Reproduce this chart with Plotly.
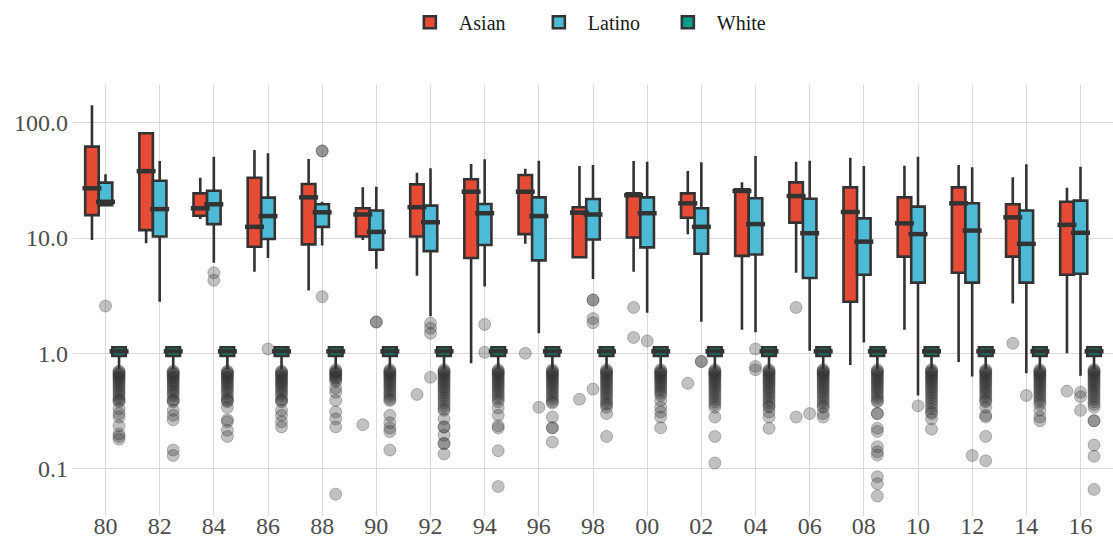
import plotly.graph_objects as go

years = ["80", "82", "84", "86", "88", "90", "92", "94", "96", "98",
         "00", "02", "04", "06", "08", "10", "12", "14", "16"]
groups = ["Asian", "Latino", "White"]
colors = ["#E64B35", "#4DBBD5", "#00A087"]

# box statistics (lower whisker, q1, median, q3, upper whisker)
asian_low = [9.6, 9.0, 14.6, 5.1, 3.5, 9.6, 4.7, 0.82, 8.9, 6.8, 5.1, 10.8, 1.6, 5.0, 0.79, 1.6, 0.84, 2.7, 1.0]
asian_q1 = [15.8, 11.7, 15.6, 8.4, 8.8, 10.3, 10.3, 6.7, 10.8, 6.8, 10.1, 15.0, 7.0, 13.6, 2.8, 6.9, 5.0, 6.9, 4.8]
asian_med = [27, 38, 18.1, 12.5, 22.5, 16.0, 18.5, 25.2, 25.2, 16.6, 23.5, 20.0, 25.6, 23.1, 16.8, 13.4, 20.0, 15.1, 13.0]
asian_q3 = [62, 81, 24.4, 33.3, 29.4, 18.1, 29.2, 32.3, 35.2, 18.5, 24.4, 24.4, 26.5, 30.4, 27.5, 22.5, 27.5, 19.6, 20.6]
asian_high = [142, 82.6, 33.3, 58, 48.4, 27.5, 36.8, 43.8, 39.9, 42.1, 46.5, 38.1, 30.4, 45.9, 49.7, 42.4, 43, 33.6, 27.3]

latino_low = [18.8, 2.8, 6.1, 6.7, 8.6, 5.4, 2.1, 3.8, 1.49, 4.4, 2.25, 1.88, 1.52, 1.05, 1.24, 0.43, 0.63, 0.67, 0.64]
latino_q1 = [19.3, 10.3, 13.2, 9.8, 12.5, 7.9, 7.7, 8.7, 6.4, 9.7, 8.3, 7.3, 7.2, 4.5, 4.8, 4.1, 4.1, 4.1, 4.9]
latino_med = [20.6, 17.8, 19.6, 15.5, 16.7, 11.3, 13.7, 16.4, 15.5, 16.0, 16.4, 12.5, 13.2, 11.0, 9.3, 10.8, 11.6, 8.9, 11.1]
latino_q3 = [30.2, 31.4, 25.7, 22.4, 19.6, 17.3, 19.1, 19.7, 22.5, 21.8, 22.5, 18.1, 22.1, 21.9, 14.8, 18.7, 20.0, 17.3, 21.1]
latino_high = [35.7, 46.5, 50.7, 54.3, 20.6, 27.9, 40.2, 48.2, 46.8, 43, 45.9, 45.3, 51.4, 46.8, 42.1, 50.7, 41, 43.6, 41.5]

white_low = [0.73] * 19
white_q1 = [0.95] * 19
white_med = [1.04] * 19
white_q3 = [1.13] * 19
white_high = [1.13] * 19

# outliers per year
asian_out = [[], [], [], [], [], [0.24], [0.44], [], [1.0], [0.40],
             [2.5, 1.37], [0.55], [], [2.5, 0.28], [], [], [], [1.22], [0.47]]
latino_out = [[2.57], [], [5.0, 4.3], [1.09], [56.9, 56.9, 3.1], [1.87, 1.87],
              [1.82, 1.65, 1.49, 0.62], [1.78, 1.02], [0.34], [2.9, 2.9, 2.0, 1.84, 0.49],
              [1.28], [0.85, 0.85], [1.09, 0.77, 0.72], [0.30], [], [0.35], [0.13],
              [0.43], [0.46, 0.42, 0.32]]
white_out = [
    [0.70, 0.69, 0.67, 0.66, 0.64, 0.63, 0.61, 0.60, 0.58, 0.56, 0.54, 0.52, 0.50, 0.48, 0.46, 0.44, 0.42, 0.40, 0.39, 0.38, 0.33, 0.30, 0.28, 0.235, 0.20, 0.19, 0.18],
    [0.70, 0.69, 0.67, 0.66, 0.64, 0.62, 0.61, 0.59, 0.57, 0.55, 0.53, 0.51, 0.49, 0.47, 0.45, 0.43, 0.40, 0.39, 0.38, 0.32, 0.29, 0.265, 0.145, 0.13],
    [0.70, 0.69, 0.67, 0.66, 0.64, 0.62, 0.61, 0.59, 0.57, 0.55, 0.53, 0.51, 0.49, 0.47, 0.45, 0.42, 0.40, 0.39, 0.38, 0.34, 0.265, 0.255, 0.215, 0.19],
    [0.70, 0.69, 0.67, 0.65, 0.64, 0.62, 0.60, 0.58, 0.56, 0.55, 0.53, 0.51, 0.49, 0.47, 0.45, 0.43, 0.40, 0.39, 0.38, 0.32, 0.29, 0.255, 0.23],
    [0.72, 0.70, 0.69, 0.67, 0.66, 0.64, 0.62, 0.61, 0.59, 0.57, 0.50, 0.46, 0.39, 0.31, 0.27, 0.23, 0.06],
    [0.72, 0.70, 0.69, 0.67, 0.65, 0.64, 0.62, 0.60, 0.58, 0.56, 0.54, 0.52, 0.50, 0.48, 0.46, 0.44, 0.42, 0.40, 0.39, 0.29, 0.25, 0.225, 0.21, 0.145],
    [0.72, 0.70, 0.69, 0.67, 0.65, 0.63, 0.61, 0.59, 0.57, 0.55, 0.53, 0.51, 0.49, 0.47, 0.45, 0.43, 0.41, 0.39, 0.37, 0.35, 0.33, 0.32, 0.27, 0.23, 0.23, 0.195, 0.165, 0.165, 0.134],
    [0.72, 0.70, 0.69, 0.67, 0.66, 0.64, 0.62, 0.60, 0.58, 0.56, 0.54, 0.52, 0.50, 0.48, 0.46, 0.44, 0.42, 0.40, 0.38, 0.335, 0.29, 0.235, 0.225, 0.143, 0.07],
    [0.72, 0.70, 0.69, 0.67, 0.65, 0.64, 0.62, 0.60, 0.58, 0.56, 0.54, 0.52, 0.50, 0.48, 0.46, 0.44, 0.42, 0.40, 0.38, 0.37, 0.28, 0.226, 0.226, 0.17],
    [0.72, 0.70, 0.69, 0.67, 0.65, 0.63, 0.61, 0.59, 0.57, 0.55, 0.53, 0.51, 0.49, 0.47, 0.45, 0.43, 0.41, 0.39, 0.37, 0.36, 0.34, 0.30, 0.19],
    [0.72, 0.70, 0.69, 0.67, 0.66, 0.64, 0.62, 0.61, 0.59, 0.57, 0.55, 0.53, 0.51, 0.49, 0.47, 0.45, 0.43, 0.39, 0.34, 0.31, 0.28, 0.226],
    [0.72, 0.70, 0.69, 0.67, 0.65, 0.64, 0.62, 0.60, 0.58, 0.56, 0.54, 0.52, 0.50, 0.48, 0.46, 0.44, 0.42, 0.40, 0.38, 0.36, 0.34, 0.28, 0.19, 0.112],
    [0.72, 0.70, 0.69, 0.67, 0.65, 0.63, 0.61, 0.59, 0.57, 0.55, 0.53, 0.51, 0.49, 0.47, 0.45, 0.43, 0.41, 0.39, 0.37, 0.35, 0.34, 0.31, 0.28, 0.224],
    [0.72, 0.71, 0.69, 0.68, 0.66, 0.65, 0.63, 0.61, 0.59, 0.57, 0.55, 0.53, 0.51, 0.49, 0.47, 0.45, 0.43, 0.41, 0.39, 0.37, 0.35, 0.34, 0.30, 0.28],
    [0.72, 0.70, 0.69, 0.67, 0.65, 0.63, 0.61, 0.59, 0.57, 0.55, 0.53, 0.51, 0.49, 0.47, 0.45, 0.43, 0.41, 0.39, 0.38, 0.30, 0.30, 0.224, 0.21, 0.155, 0.14, 0.131, 0.085, 0.074, 0.058],
    [0.72, 0.71, 0.69, 0.68, 0.66, 0.64, 0.62, 0.61, 0.59, 0.57, 0.55, 0.53, 0.51, 0.49, 0.47, 0.45, 0.43, 0.41, 0.39, 0.37, 0.35, 0.33, 0.31, 0.30, 0.27, 0.22],
    [0.72, 0.70, 0.69, 0.67, 0.65, 0.63, 0.61, 0.59, 0.57, 0.55, 0.53, 0.51, 0.49, 0.47, 0.45, 0.43, 0.41, 0.39, 0.38, 0.34, 0.29, 0.28, 0.19, 0.117],
    [0.72, 0.70, 0.69, 0.67, 0.65, 0.64, 0.62, 0.60, 0.58, 0.56, 0.54, 0.52, 0.50, 0.48, 0.46, 0.44, 0.42, 0.40, 0.38, 0.36, 0.32, 0.28, 0.26],
    [0.72, 0.71, 0.69, 0.68, 0.66, 0.64, 0.62, 0.60, 0.58, 0.56, 0.54, 0.52, 0.50, 0.48, 0.46, 0.44, 0.42, 0.40, 0.38, 0.36, 0.34, 0.26, 0.26, 0.16, 0.128, 0.066],
]

stats = [
    (asian_low, asian_q1, asian_med, asian_q3, asian_high, asian_out),
    (latino_low, latino_q1, latino_med, latino_q3, latino_high, latino_out),
    (white_low, white_q1, white_med, white_q3, white_high, white_out),
]

DARK = "#333333"
dodge = 0.75
bw = dodge / len(groups)
idx = list(range(len(years)))

fig = go.Figure()
for g, (name, col, st) in enumerate(zip(groups, colors, stats)):
    low, q1, med, q3, high, outs = st
    off = (g - (len(groups) - 1) / 2) * bw
    xs = [i + off for i in idx]
    # outliers
    ox, oy = [], []
    for i, vals in zip(idx, outs):
        for v in vals:
            ox.append(i + off)
            oy.append(v)
    fig.add_trace(go.Scatter(
        x=ox, y=oy, mode="markers", showlegend=False, hoverinfo="skip",
        marker=dict(size=12, color="rgba(51,51,51,0.3)",
                    line=dict(width=1, color="rgba(51,51,51,0.3)"))))
    fig.add_trace(go.Box(
        name=name, x=xs, q1=q1, median=med, q3=q3,
        lowerfence=low, upperfence=high, width=bw,
        boxpoints=False, whiskerwidth=0,
        fillcolor=col, line=dict(color=DARK, width=2.6)))
    # thicker median
    fig.add_trace(go.Scatter(
        x=xs, y=med, mode="markers", showlegend=False, hoverinfo="skip",
        marker=dict(symbol="line-ew", size=bw * 54.2,
                    line=dict(width=4.5, color=DARK))))

grid = "#dadada"
fig.update_layout(
    width=1113, height=546,
    margin=dict(l=73, r=0, t=85, b=30),
    plot_bgcolor="white", paper_bgcolor="white",
    boxmode="overlay",
    font=dict(family="Liberation Serif", size=24, color="#4d4d4d"),
    legend=dict(orientation="h", xref="container", yref="container",
                x=0.534, y=0.995, xanchor="center", yanchor="top",
                font=dict(size=20, color="#1a1a1a"),
                itemwidth=48, entrywidth=66, entrywidthmode="pixels"),
)
fig.update_xaxes(
    type="linear", range=[-0.6, len(years) - 0.4],
    tickvals=idx, ticktext=years, showgrid=True, gridcolor=grid, gridwidth=1.2,
    zeroline=False, showline=False, ticks="", ticklabelstandoff=-7,
    automargin=False,
)
fig.update_yaxes(
    type="log", range=[-1.411, 2.327],
    tickvals=[0.1, 1, 10, 100], ticktext=["0.1", "1.0", "10.0", "100.0"],
    showgrid=True, gridcolor=grid, gridwidth=1.2,
    zeroline=False, showline=False, ticks="", ticklabelstandoff=4,
    automargin=False,
)

fig.write_html("out.html", config={"displayModeBar": False},
               post_script="document.body.style.margin='0';")
